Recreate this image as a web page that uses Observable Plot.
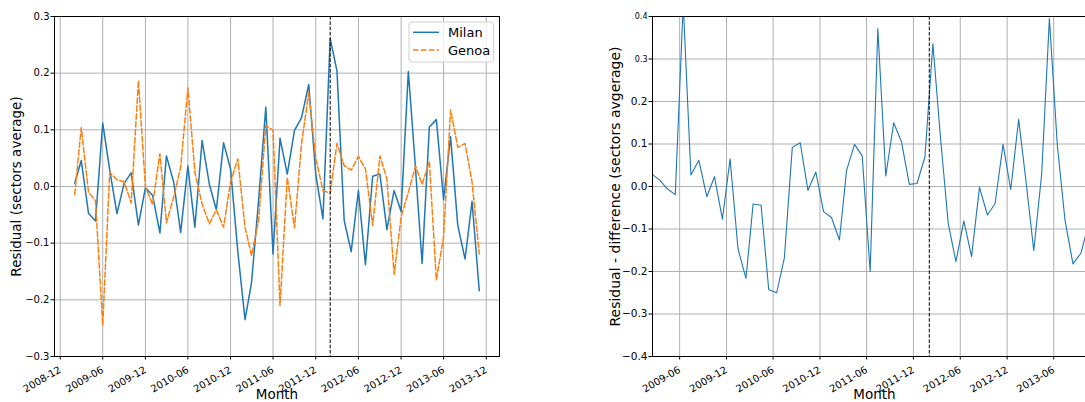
<!DOCTYPE html>
<html><head><meta charset="utf-8">
<script src="https://cdn.jsdelivr.net/npm/d3@7"></script>
<script src="https://cdn.jsdelivr.net/npm/@observablehq/plot@0.6"></script>
<style>
html,body{margin:0;padding:0;background:#fff;overflow:hidden;width:1085px;height:402px}
#wrap{display:flex;width:1120px;height:402px}
</style></head><body><div id="wrap"></div>
<script>
// ---------- data ----------
const startMonth = "2009-02";
const seriesNames = ["Milan", "Genoa"];
const milan = [
  0.006, 0.046, -0.047, -0.061, 0.112, 0.029, -0.048, 0.006, 0.024, -0.068, -0.002,
  -0.016, -0.082, 0.054, 0.008, -0.081, 0.036, -0.072, 0.081, 0.004, -0.041, 0.077, 0.031,
  -0.115, -0.235, -0.169, -0.02, 0.14, -0.119, 0.085, 0.022, 0.099, 0.121, 0.18, 0.022,
  -0.057, 0.261, 0.204, -0.06, -0.115, -0.007, -0.138, 0.018, 0.022, -0.076, -0.007, -0.044,
  0.203, 0.03, -0.136, 0.105, 0.118, -0.023, 0.088, -0.069, -0.128, -0.026, -0.184
];
const genoa = [
  -0.014, 0.104, -0.010, -0.025, -0.245, 0.025, 0.012, 0.008, -0.029, 0.187, -0.001,
  -0.032, 0.058, -0.064, -0.019, 0.034, 0.174, 0.025, -0.031, -0.066, -0.041, -0.072, 0.008,
  0.049, -0.072, -0.122, -0.057, 0.108, 0.099, -0.21, 0.016, -0.073, 0.075, 0.166, 0.05,
  -0.007, -0.012, 0.076, 0.037, 0.029, 0.053, 0.031, -0.069, 0.054, 0.014, -0.155, -0.054,
  -0.01, 0.036, 0.004, 0.044, -0.165, -0.089, 0.135, 0.069, 0.076, 0.008, -0.119
];
const difference = [
  0.028, 0.015, -0.006, -0.019, 0.43, 0.027, 0.062, -0.024, 0.023, -0.077, 0.065,
  -0.147, -0.216, -0.041, -0.044, -0.243, -0.25, -0.168, 0.092, 0.103, -0.009, 0.034, -0.059,
  -0.073, -0.126, 0.038, 0.099, 0.072, -0.2, 0.371, 0.025, 0.15, 0.106, 0.005, 0.007,
  0.07, 0.336, 0.12, -0.087, -0.177, -0.081, -0.165, -0.002, -0.067, -0.04, 0.099, -0.007,
  0.158, 0.0, -0.151, 0.03, 0.395, 0.097, -0.079, -0.182, -0.157, -0.09
];
const eventMonth = "2012-02";
const rightEndMonth = "2013-11";
const leftXTicks = ["2008-12","2009-06","2009-12","2010-06","2010-12","2011-06","2011-12","2012-06","2012-12","2013-06","2013-12"];
const rightXTicks = ["2009-06","2009-12","2010-06","2010-12","2011-06","2011-12","2012-06","2012-12","2013-06"];
const leftYTicks = [-0.3, -0.2, -0.1, 0.0, 0.1, 0.2, 0.3];
const rightYTicks = [-0.4, -0.3, -0.2, -0.1, 0.0, 0.1, 0.2];
const rightYSmallTicks = [0.3, 0.4];
const leftYLabel = "Residual (sectors average)";
const rightYLabel = "Residual - difference (sectors avgerage)";
const xLabel = "Month";

// ---------- derived ----------
const parse = d3.utcParse("%Y-%m");
const start = parse(startMonth);
const monthDates = d3.range(milan.length).map(i => d3.utcMonth.offset(start, i));
const milanData = milan.map((v, i) => ({date: monthDates[i], value: v, city: seriesNames[0]}));
const genoaData = genoa.map((v, i) => ({date: monthDates[i], value: v, city: seriesNames[1]}));
const diffData = difference.map((v, i) => ({date: d3.utcDay.offset(d3.utcMonth.offset(start, i), 14), value: v}));
const eventDate = parse(eventMonth);
const span = monthDates[monthDates.length - 1] - monthDates[0];
const leftDomain = [new Date(+monthDates[0] - 0.05 * span), new Date(+monthDates[monthDates.length - 1] + 0.05 * span)];
const rightDomain = [diffData[0].date, d3.utcDay.offset(parse(rightEndMonth), 14)];
const fmtY = d3.format(".1f");
const fmtX = d3.utcFormat("%Y-%m");
const gridStyle = {stroke: "#b0b0b0", strokeOpacity: 1, strokeWidth: 1};
const font = "DejaVu Sans";

const left = Plot.plot({
  width: 560, height: 402,
  marginLeft: 54, marginRight: 61, marginTop: 16, marginBottom: 46,
  style: {fontFamily: font, fontSize: "10px", color: "#000", background: "white"},
  x: {type: "utc", domain: leftDomain},
  y: {domain: [-0.3, 0.3]},
  marks: [
    Plot.gridX(leftXTicks.map(parse), gridStyle),
    Plot.gridY(leftYTicks, gridStyle),
    Plot.line(milanData, {x: "date", y: "value", stroke: "#1f77b4", strokeWidth: 1.5}),
    Plot.line(genoaData, {x: "date", y: "value", stroke: "#ff7f0e", strokeWidth: 1.5, strokeDasharray: "5.5,2.4"}),
    Plot.ruleX([eventDate], {stroke: "black", strokeWidth: 1, strokeDasharray: "3.7,1.6"}),
    Plot.frame({stroke: "black", strokeWidth: 1}),
    Plot.axisY(leftYTicks, {tickSize: 3.5, tickPadding: 1.5, tickFormat: fmtY, label: null, fontSize: 10}),
    Plot.axisX(leftXTicks.map(parse), {tickSize: 3.5, tickRotate: -30, tickFormat: fmtX, label: null, fontSize: 10}),
    Plot.text([leftYLabel], {text: d => d, frameAnchor: "left", textAnchor: "middle", dx: -37.5, rotate: -90, fontSize: 13.5}),
    Plot.text([xLabel], {text: d => d, frameAnchor: "bottom", textAnchor: "middle", dy: 42, fontSize: 13.5})
  ]
});

const right = Plot.plot({
  width: 556, height: 402,
  marginLeft: 92, marginRight: 20, marginTop: 16, marginBottom: 46,
  style: {fontFamily: font, fontSize: "10px", color: "#000", background: "white"},
  x: {type: "utc", domain: rightDomain},
  y: {domain: [-0.4, 0.4]},
  marks: [
    Plot.gridX(rightXTicks.map(parse), gridStyle),
    Plot.gridY([...rightYTicks, ...rightYSmallTicks], gridStyle),
    Plot.line(diffData, {x: "date", y: "value", stroke: "#1f77b4", strokeWidth: 1.1, clip: true}),
    Plot.ruleX([eventDate], {stroke: "black", strokeWidth: 1, strokeDasharray: "3.7,1.6"}),
    Plot.frame({stroke: "black", strokeWidth: 1}),
    Plot.axisY(rightYTicks, {tickSize: 3.5, tickPadding: 1.5, tickFormat: fmtY, label: null, fontSize: 10.5}),
    Plot.axisY(rightYSmallTicks, {tickSize: 3.5, tickPadding: 1.5, tickFormat: fmtY, label: null, fontSize: 8}),
    Plot.axisX(rightXTicks.map(parse), {tickSize: 3.5, tickRotate: -30, tickFormat: fmtX, label: null, fontSize: 10}),
    Plot.text([rightYLabel], {text: d => d, frameAnchor: "left", textAnchor: "middle", dx: -37, rotate: -90, fontSize: 14}),
    Plot.text([xLabel], {text: d => d, frameAnchor: "bottom", textAnchor: "middle", dy: 42, fontSize: 13.5})
  ]
});

// legend (left chart, upper right)
const svg = d3.select(left);
const lg = svg.append("g").attr("font-family", font).attr("font-size", 13).attr("text-anchor", "start");
lg.append("rect").attr("x", 409).attr("y", 22).attr("width", 84.5).attr("height", 40)
  .attr("rx", 3).attr("fill", "white").attr("fill-opacity", 0.8).attr("stroke", "#d0d0d0");
const legendItems = [
  {name: seriesNames[0], color: "#1f77b4", dash: null},
  {name: seriesNames[1], color: "#ff7f0e", dash: "5.5,2.4"}
];
legendItems.forEach((d, i) => {
  const y = 32.3 + i * 17.7;
  lg.append("line").attr("x1", 413).attr("x2", 439).attr("y1", y).attr("y2", y)
    .attr("stroke", d.color).attr("stroke-width", 1.5).attr("stroke-dasharray", d.dash);
  lg.append("text").attr("x", 448).attr("y", y + 4.7).attr("fill", "#000").attr("text-anchor", "start").text(d.name);
});

document.getElementById("wrap").append(left, right);
</script>
</body></html>
